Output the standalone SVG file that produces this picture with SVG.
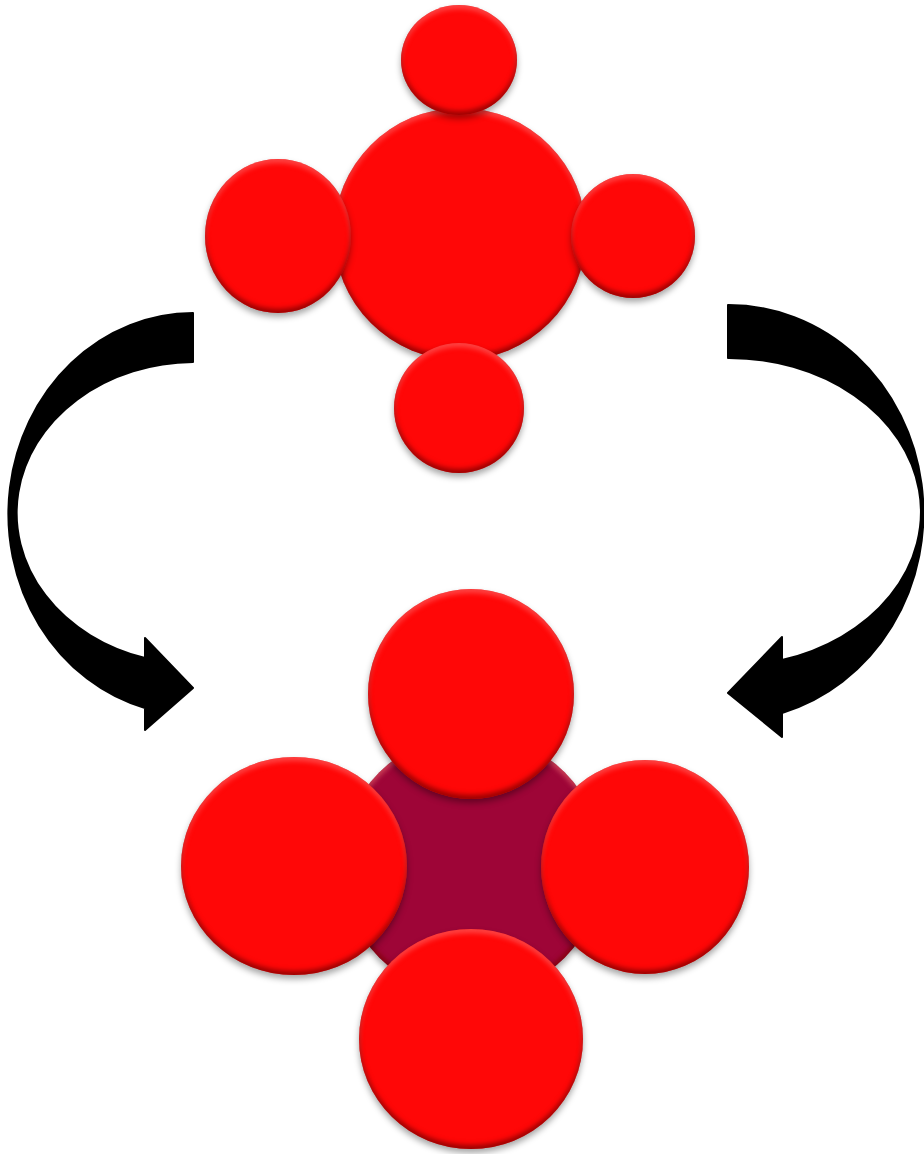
<svg xmlns="http://www.w3.org/2000/svg" width="924" height="1154" viewBox="0 0 924 1154">
  <defs>
    <filter id="bev" x="-20%" y="-20%" width="140%" height="145%" color-interpolation-filters="sRGB">
      <feGaussianBlur in="SourceAlpha" stdDeviation="2.5" result="b"/>
      <feOffset in="b" dy="-4" result="up"/>
      <feComposite in="SourceAlpha" in2="up" operator="out" result="botEdge"/>
      <feFlood flood-color="#7a0000" flood-opacity="0.75"/>
      <feComposite in2="botEdge" operator="in" result="dark"/>
      <feOffset in="b" dy="4" result="down"/>
      <feComposite in="SourceAlpha" in2="down" operator="out" result="topEdge"/>
      <feFlood flood-color="#ff8080" flood-opacity="0.5"/>
      <feComposite in2="topEdge" operator="in" result="light"/>
      <feGaussianBlur in="SourceAlpha" stdDeviation="3" result="b2"/>
      <feOffset in="b2" dy="4" result="sh"/>
      <feFlood flood-color="#000" flood-opacity="0.35"/>
      <feComposite in2="sh" operator="in" result="shadow"/>
      <feMerge>
        <feMergeNode in="shadow"/>
        <feMergeNode in="SourceGraphic"/>
        <feMergeNode in="light"/>
        <feMergeNode in="dark"/>
      </feMerge>
    </filter>
  </defs>
  <style>
    .red { fill: #ff0707; filter: url(#bev); }
    .maroon { fill: #9e0537; filter: url(#bev); }
    .arrow { fill: #000; stroke: #000; stroke-width: 2; stroke-linejoin: round; }
  </style>
  <rect width="924" height="1154" fill="#fff"/>

  <g id="connectors">
    <path id="arrow-left" class="arrow" d="M 193 313 A 185 201 0 0 0 145 708 L 145 730 L 193 688 L 145 638 L 145 658 A 178 151 0 0 1 193 362 Z"/>
    <path id="arrow-right" class="arrow" d="M 728 305 A 195 208 0 0 1 782 713 L 782 737 L 728 693 L 782 637 L 782 660 A 192 154 0 0 0 728 358 Z"/>
  </g>

  <g id="top-cluster">
    <g id="top-center"><circle class="red" cx="460" cy="234" r="126"/></g>
    <g id="top-n"><ellipse class="red" cx="459" cy="60" rx="58" ry="55"/></g>
    <g id="top-w"><ellipse class="red" cx="278" cy="236" rx="73" ry="77"/></g>
    <g id="top-e"><ellipse class="red" cx="633" cy="236" rx="62" ry="62"/></g>
    <g id="top-s"><circle class="red" cx="459" cy="408" r="65"/></g>
  </g>

  <g id="bottom-cluster">
    <g id="bottom-center"><circle class="maroon" cx="472" cy="865" r="131"/></g>
    <g id="bottom-n"><ellipse class="red" cx="471" cy="694" rx="103" ry="105"/></g>
    <g id="bottom-w"><ellipse class="red" cx="294" cy="866" rx="113" ry="109"/></g>
    <g id="bottom-e"><ellipse class="red" cx="645" cy="867" rx="104" ry="107"/></g>
    <g id="bottom-s"><ellipse class="red" cx="471" cy="1039" rx="112" ry="110"/></g>
  </g>
</svg>
